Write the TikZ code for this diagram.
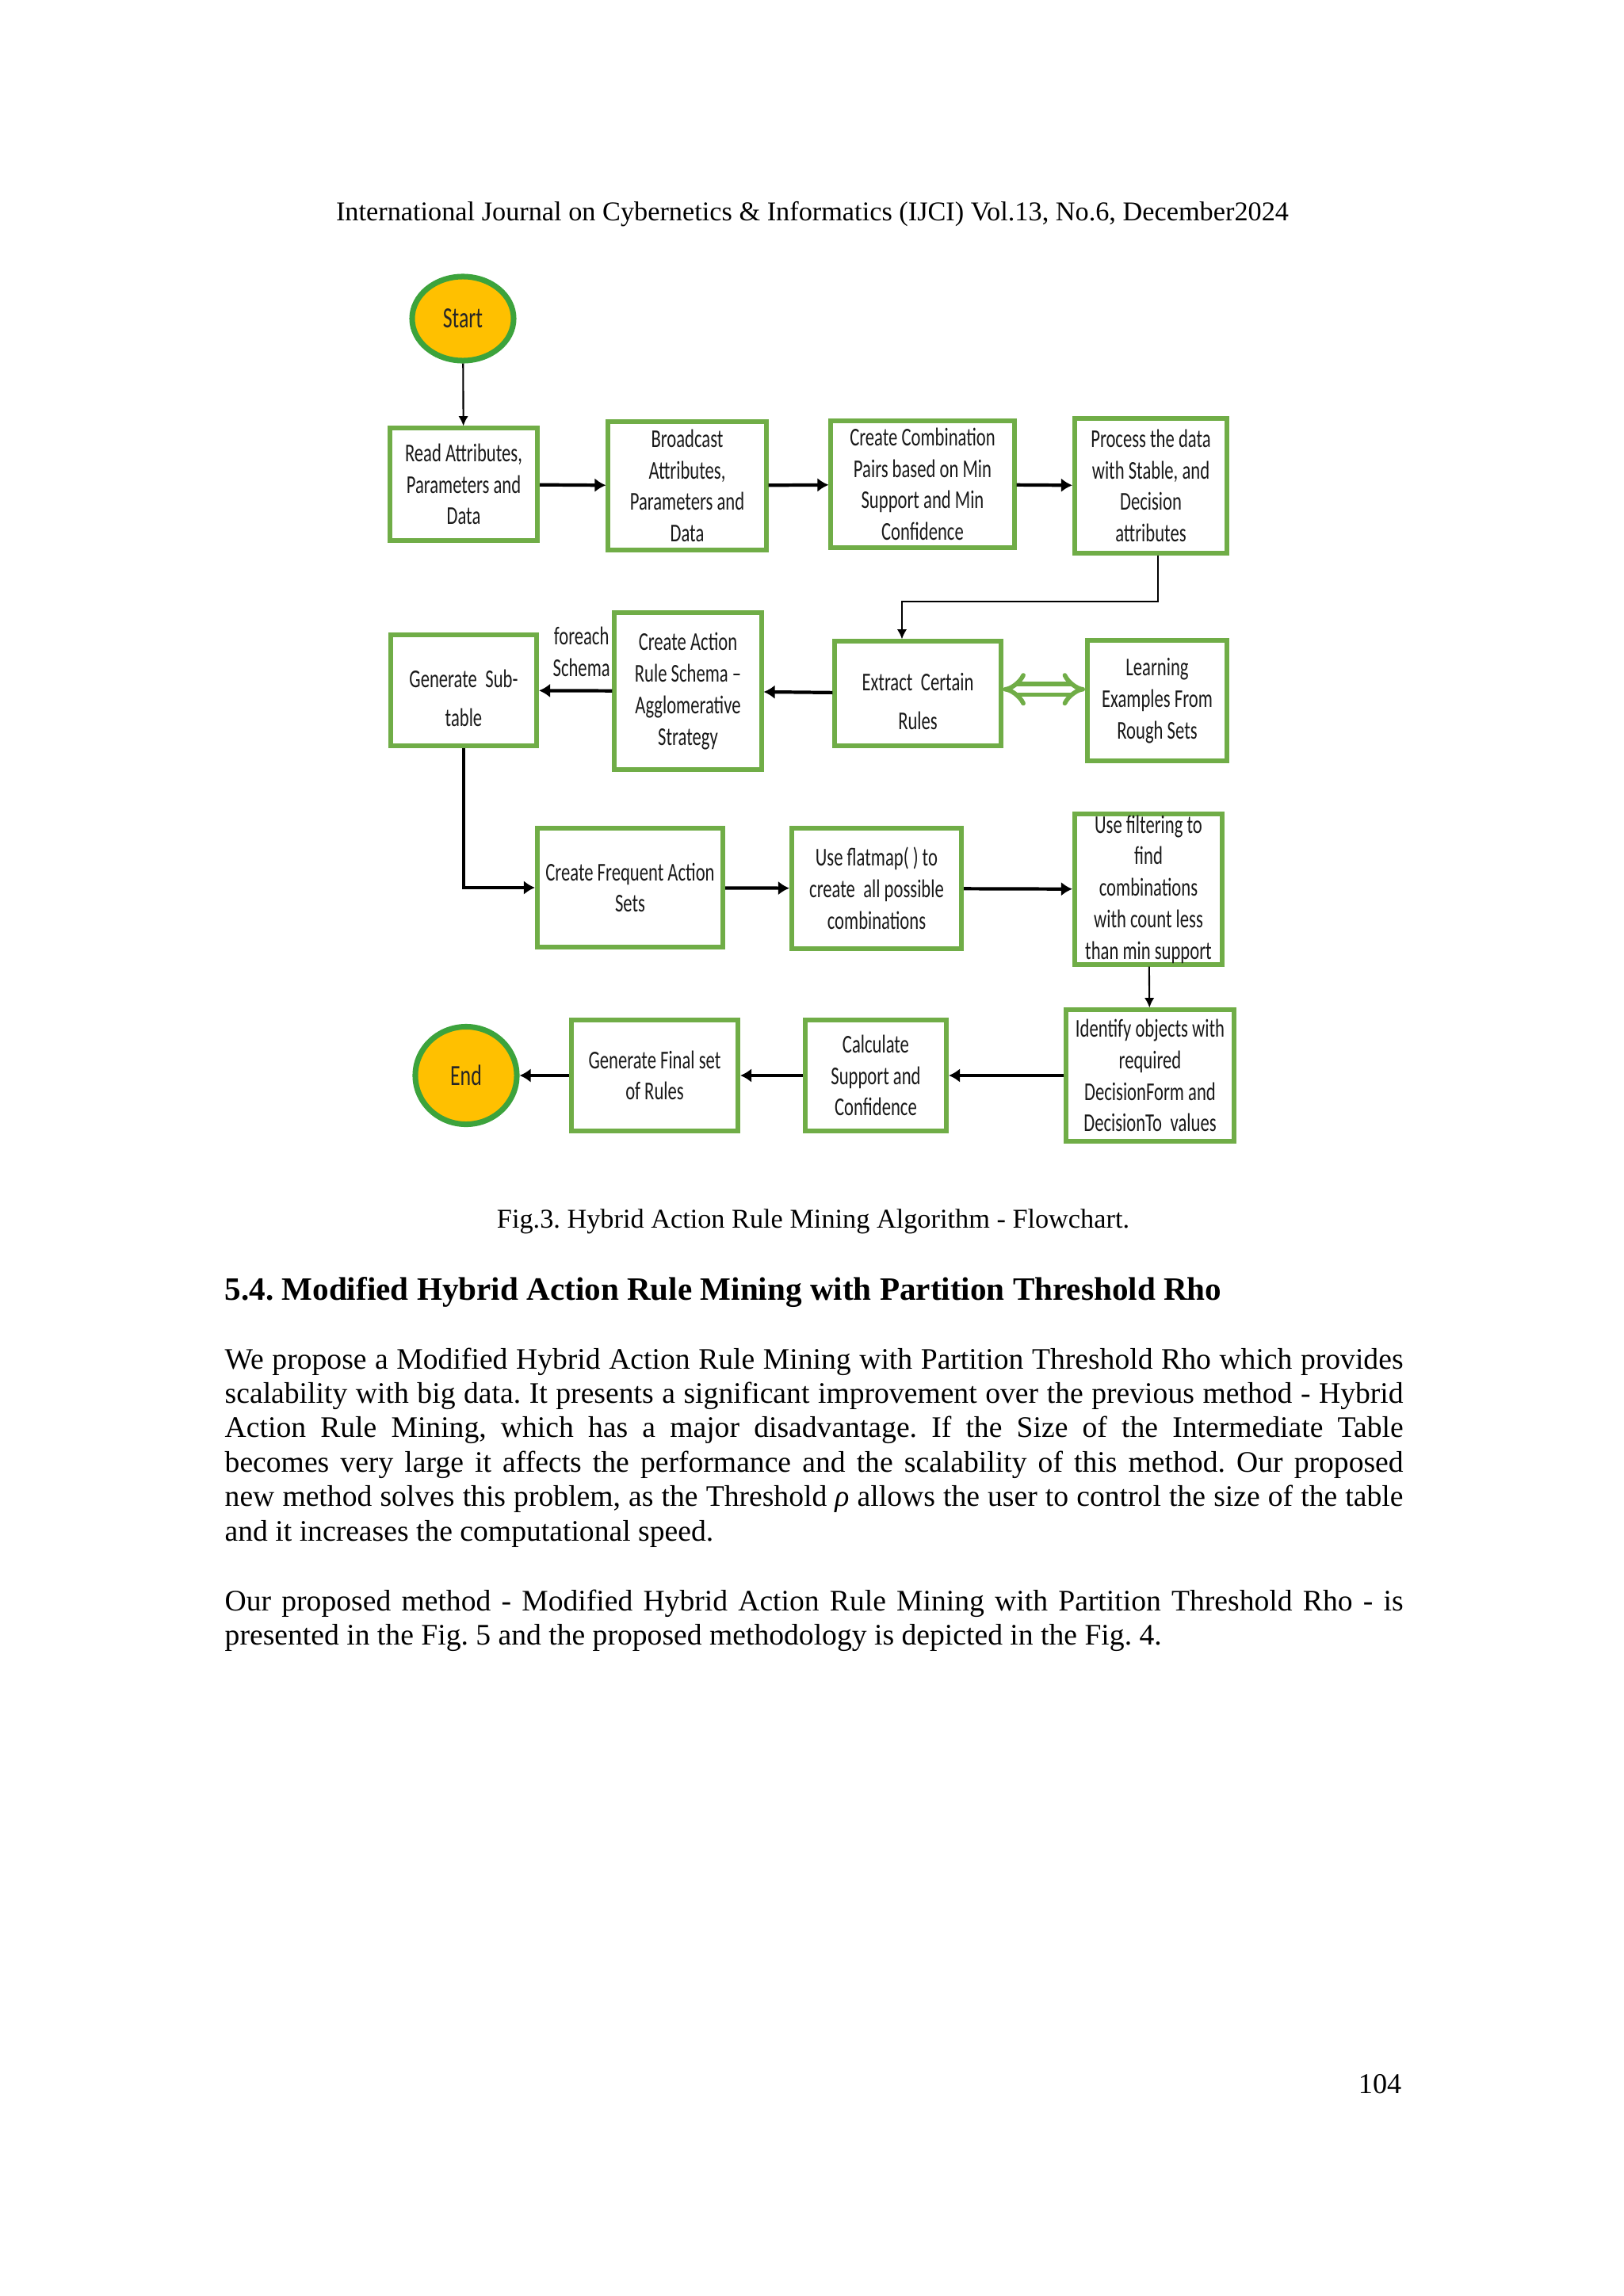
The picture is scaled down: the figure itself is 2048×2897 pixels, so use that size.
\documentclass[tikz,border=0pt]{standalone}
\usepackage{fontspec}
\setmainfont{Liberation Serif}
\newfontfamily\boxfont[FakeStretch=0.7]{Carlito}
\usetikzlibrary{arrows.meta,shapes.geometric}
\definecolor{boxgreen}{RGB}{112,173,71}
\definecolor{ringgreen}{RGB}{60,163,60}
\definecolor{termgold}{RGB}{255,192,0}
\frenchspacing

\begin{document}
\begin{tikzpicture}[x=0.01cm, y=-0.01cm,
      box/.style={draw=boxgreen, line width=1.7pt, fill=white, align=center, inner sep=0pt, font=\boxfont\fontsize{9.2}{11.3}\selectfont, text=black!90},
      term/.style={ellipse, draw=ringgreen, line width=2pt, fill=termgold, inner sep=0pt, font=\boxfont\fontsize{10.5}{12}\selectfont, text=black!85},
      arrow/.style={-{Latex[length=4pt, width=5pt]}, line width=1.2pt},
      thinarrow/.style={-{Latex[length=3.5pt, width=3.5pt]}, line width=0.6pt},
      dblarrow/.style={{Implies}-{Implies}, draw=boxgreen, line width=1.6pt, double=white, double distance=2.2pt},
      lbl/.style={align=center, inner sep=1pt, font=\boxfont\fontsize{9.2}{11.3}\selectfont, text=black!90},
      pagetext/.style={inner sep=0pt, font=\fontsize{10.7}{12.36}\selectfont}
    ]
    \fill[white] (0,0) rectangle (2048,2897);
    \useasboundingbox (0,0) rectangle (2048,2897);

    \node[pagetext, font=\fontsize{9.75}{12}\selectfont, anchor=base] (header) at (1025,278) {International Journal on Cybernetics \& Informatics (IJCI) Vol.13, No.6, December2024};

    % flowchart
    \node[term, minimum width=1.28cm, minimum height=1.06cm] (start) at (584,402) {Start};
    \node[box, minimum width=1.86cm, minimum height=1.41cm] (read) at (585,611) {Read Attributes,\\Parameters and\\Data};
    \node[box, minimum width=1.99cm, minimum height=1.61cm] (bcast) at (867,613) {Broadcast\\Attributes,\\Parameters and\\Data};
    \node[box, minimum width=2.31cm, minimum height=1.60cm] (combo) at (1164,611) {Create Combination\\Pairs based on Min\\Support and Min\\Confidence};
    \node[box, minimum width=1.92cm, minimum height=1.69cm] (proc) at (1452,613) {Process the data\\with Stable, and\\Decision\\attributes};
    \draw[thinarrow] (start) -- (read);
    \draw[arrow] (read) -- (bcast);
    \draw[arrow] (bcast) -- (combo);
    \draw[arrow] (combo) -- (proc);

    \node[box, minimum width=1.84cm, minimum height=1.40cm] (subtab) at (585,871) {\rule{0pt}{12pt}Generate\, Sub-\\[2.5pt]table};
    \node[box, minimum width=1.85cm, minimum height=1.97cm] (schema) at (868,872) {Create Action\\Rule Schema –\\Agglomerative\\Strategy};
    \node[box, minimum width=2.09cm, minimum height=1.31cm] (extract) at (1158,875) {\rule{0pt}{12pt}Extract\, Certain\\[2.5pt]Rules};
    \node[box, minimum width=1.76cm, minimum height=1.51cm] (learn) at (1460,884) {Learning\\Examples From\\Rough Sets};
    \coordinate (turn) at (1300,759);
    \draw[thinarrow] ([xshift=0.9mm]proc.south) |- (turn) -| ([xshift=-2mm]extract.north);
    \draw[arrow] (extract) -- (schema);
    \draw[arrow] (schema) -- node[lbl, above=3.5pt, pos=0.42] (foreach) {foreach\\Schema} (subtab);
    \draw[dblarrow] ([yshift=1.5pt]extract.east) -- ([yshift=1.5pt]extract.east -| learn.west);

    \node[box, minimum width=2.34cm, minimum height=1.49cm] (freq) at (795,1120) {Create Frequent Action\\Sets};
    \node[box, minimum width=2.14cm, minimum height=1.51cm] (flat) at (1106,1121) {Use flatmap( ) to\\create\, all possible\\combinations};
    \node[box, minimum width=1.86cm, minimum height=1.89cm] (filt) at (1449,1122) {Use filtering to\\find\\combinations\\with count less\\than min support};
    \draw[arrow] (subtab.south) |- (freq.west);
    \draw[arrow] (freq) -- (flat);
    \draw[arrow] (flat) -- (filt);

    \node[box, minimum width=2.11cm, minimum height=1.65cm] (ident) at (1451,1357) {Identify objects with\\required\\DecisionForm and\\DecisionTo\, values};
    \node[box, minimum width=1.78cm, minimum height=1.39cm] (calc) at (1105,1357) {Calculate\\Support and\\Confidence};
    \node[box, minimum width=2.10cm, minimum height=1.40cm] (final) at (826,1357) {Generate Final set\\of Rules};
    \node[term, minimum width=1.28cm, minimum height=1.23cm] (finish) at (588,1357) {End};
    \draw[thinarrow] (filt) -- (ident);
    \draw[arrow] (ident) -- (calc);
    \draw[arrow] (calc) -- (final);
    \draw[arrow] (final) -- (finish);

    % page text
    \node[pagetext, font=\fontsize{9.75}{12}\selectfont, anchor=base] (caption) at (1026,1549) {Fig.3. Hybrid Action Rule Mining Algorithm - Flowchart.};
    \node[pagetext, font=\fontsize{11.7}{14}\selectfont\bfseries, anchor=base west] (heading) at (283,1640) {5.4. Modified Hybrid Action Rule Mining with Partition Threshold Rho};
    \node[pagetext, text width=14.86cm, align=justify, anchor=base west] (para1) at (283,1727) {\hyphenpenalty=10000 We propose a Modified Hybrid Action Rule Mining with Partition Threshold Rho which provides\linebreak scalability with big data. It presents a significant improvement over the previous method - Hybrid\linebreak Action Rule Mining, which has a major disadvantage. If the Size of the Intermediate Table\linebreak becomes very large it affects the performance and the scalability of this method. Our proposed\linebreak new method solves this problem, as the Threshold \textit{ρ} allows the user to control the size of the table\linebreak and it increases the computational speed.};
    \node[pagetext, text width=14.86cm, align=justify, anchor=base west] (para2) at (283,2032) {\hyphenpenalty=10000 Our proposed method - Modified Hybrid Action Rule Mining with Partition Threshold Rho - is\linebreak presented in the Fig. 5 and the proposed methodology is depicted in the Fig. 4.};
    \node[pagetext, font=\fontsize{10.3}{12}\selectfont, anchor=base east] (pagenum) at (1769,2641) {104};
  \end{tikzpicture}
\end{document}
